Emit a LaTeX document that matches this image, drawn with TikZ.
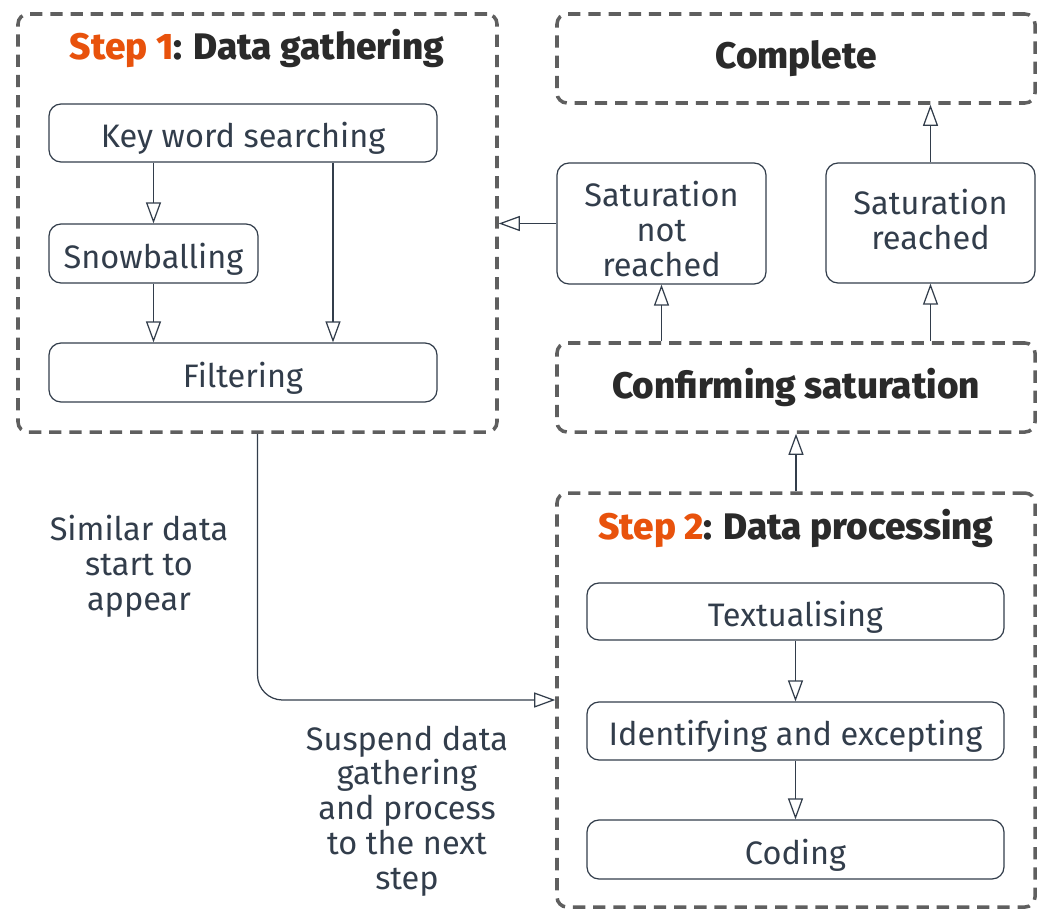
\documentclass[tikz,border=0pt]{standalone}
\usepackage{fontspec}
\setmainfont{Fira Sans}[BoldFont={Fira Sans ExtraBold}]
\usetikzlibrary{arrows.meta,positioning}

\definecolor{ink}{HTML}{323D4B}
\definecolor{dashgray}{HTML}{5F5F5F}
\definecolor{steporange}{HTML}{E8520C}
\definecolor{titleblack}{HTML}{2A2A2A}

\tikzset{
  stage/.style={draw=dashgray, line width=2pt, dash pattern=on 7pt off 4.5pt, rounded corners=0.2cm, text=titleblack, font=\fontsize{21}{24}\selectfont\bfseries},
  task/.style={draw=ink, line width=0.7pt, rounded corners=0.24cm, text=ink, align=center, font=\fontsize{18.5}{19.8}\selectfont,
    execute at begin node={\rule{0pt}{20.5pt}}},
  note/.style={text=ink, align=center, font=\fontsize{18.5}{19.8}\selectfont},
  arr/.style={draw=ink, line width=0.7pt, -{Triangle[open, length=0.42cm, width=0.3cm]}}
}

\begin{document}
\begin{tikzpicture}
\useasboundingbox (0,0) rectangle (20.92,-18.18);

% step 1
\node[stage, minimum width=9.58cm, minimum height=8.36cm](step1) at (5.15,-4.46) {};
\node[text=titleblack, font=\fontsize{21}{24}\selectfont\bfseries](title1) at (5.14,-0.96) {\textcolor{steporange}{Step 1}: Data gathering};
\node[task, minimum width=7.76cm, minimum height=1.16cm](kws) at (4.86,-2.66) {Key word searching};
\node[task, minimum width=4.18cm, minimum height=1.18cm](snow) at (3.07,-5.07) {Snowballing};
\node[task, minimum width=7.76cm, minimum height=1.18cm](filt) at (4.86,-7.45) {Filtering};

% right column
\node[stage, minimum width=9.56cm, minimum height=1.78cm](complete) at (15.92,-1.17) {Complete};
\node[task, minimum width=4.18cm, minimum height=2.42cm, execute at begin node={\rule{0pt}{60.6pt}}](satno) at (13.23,-4.47) {Saturation\\not\\reached};
\node[task, minimum width=4.18cm, minimum height=2.4cm, execute at begin node={\rule[-4.6pt]{0pt}{0pt}}](satyes) at (18.61,-4.46) {Saturation\\reached};
\node[stage, minimum width=9.56cm, minimum height=1.78cm](confirm) at (15.92,-7.75) {Confirming saturation};

% step 2
\node[stage, minimum width=9.56cm, minimum height=8.28cm](step2) at (15.92,-14.0) {};
\node[text=titleblack, font=\fontsize{21}{24}\selectfont\bfseries](title2) at (15.92,-10.56) {\textcolor{steporange}{Step 2}: Data processing};
\node[task, minimum width=8.34cm, minimum height=1.14cm](textual) at (15.91,-12.23) {Textualising};
\node[task, minimum width=8.34cm, minimum height=1.16cm](ident) at (15.91,-14.62) {Identifying and excepting};
\node[task, minimum width=8.34cm, minimum height=1.18cm](coding) at (15.91,-16.99) {Coding};

\node[note](similar) at (2.78,-11.32) {Similar data\\start to\\appear};
\node[note](suspend) at (8.14,-16.22) {Suspend data\\gathering\\and process\\to the next\\step};

\draw[arr] (kws.south -| snow.north) -- (snow.north);
\draw[arr] (snow.south) -- (snow.south |- filt.north);
\draw[arr] (kws.south -| 6.66,0) -- (filt.north -| 6.66,0);

\draw[arr] (satno.west) -- (satno.west -| step1.east);
\draw[arr] (satyes.north) -- (satyes.north |- complete.south);
\draw[arr] (confirm.north -| satno.south) -- (satno.south);
\draw[arr] (confirm.north -| satyes.south) -- (satyes.south);
\draw[arr] (step2.north) -- (confirm.south);

\draw[arr] (textual.south) -- (ident.north);
\draw[arr] (ident.south) -- (coding.north);

\draw[arr, rounded corners=0.5cm] (step1.south) |- (step2.west);
\end{tikzpicture}
\end{document}
